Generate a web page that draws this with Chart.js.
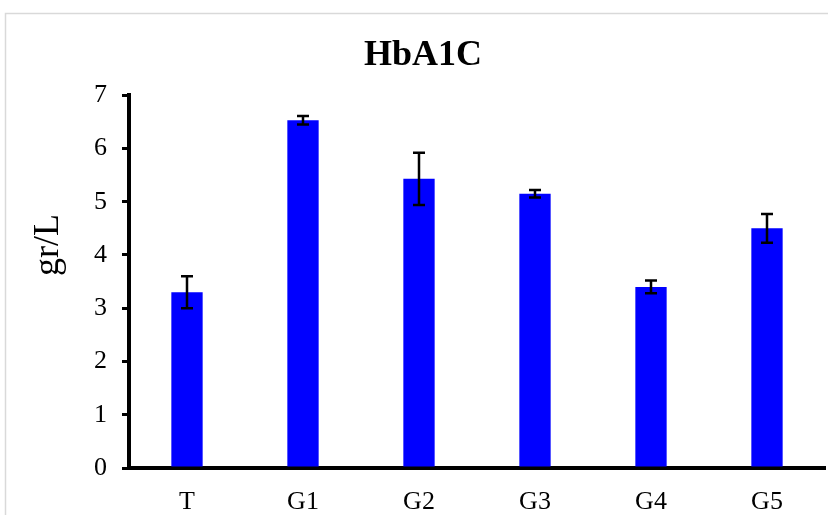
<!DOCTYPE html>
<html>
<head>
<meta charset="utf-8">
<script src="https://cdn.jsdelivr.net/npm/chart.js@4.4.1/dist/chart.umd.min.js"></script>
<style>
  html, body { margin: 0; padding: 0; background: #ffffff; }
  #wrap { width: 828px; height: 515px; position: relative; }
</style>
</head>
<body>
<div id="wrap"><canvas id="chart" width="828" height="515"></canvas></div>
<script>
// HbA1C by group (gr/L), mean and standard deviation
const groups = ['T', 'G1', 'G2', 'G3', 'G4', 'G5'];
const meanValues = [3.30, 6.53, 5.43, 5.15, 3.40, 4.50];
const sdValues = [0.30, 0.08, 0.49, 0.07, 0.12, 0.27];
const yTicks = [0, 1, 2, 3, 4, 5, 6, 7];

const SERIF = "'Liberation Serif', 'Times New Roman', serif";

// White background with a light grey outer frame
const framePlugin = {
  id: 'frame',
  beforeDraw(chart) {
    const ctx = chart.ctx;
    ctx.save();
    ctx.fillStyle = '#ffffff';
    ctx.fillRect(0, 0, chart.width, chart.height);
    ctx.strokeStyle = '#d9d9d9';
    ctx.lineWidth = 1.5;
    ctx.strokeRect(5.5, 13.5, chart.width + 20, chart.height + 20);
    ctx.restore();
  }
};

// Rotated y-axis title
const yTitlePlugin = {
  id: 'yTitle',
  afterDraw(chart) {
    const ctx = chart.ctx;
    ctx.save();
    ctx.translate(58, 245);
    ctx.rotate(-Math.PI / 2);
    ctx.font = '36px ' + SERIF;
    ctx.fillStyle = '#000000';
    ctx.textAlign = 'center';
    ctx.textBaseline = 'alphabetic';
    ctx.fillText('gr/L', 0, 0);
    ctx.restore();
  }
};

// Error bars (mean ± SD) drawn through the y scale
const errorBarPlugin = {
  id: 'errorBars',
  afterDatasetsDraw(chart) {
    const ctx = chart.ctx;
    const yScale = chart.scales.y;
    const meta = chart.getDatasetMeta(0);
    ctx.save();
    ctx.strokeStyle = '#000000';
    ctx.lineWidth = 2.5;
    meta.data.forEach((bar, i) => {
      const x = bar.x;
      const top = yScale.getPixelForValue(meanValues[i] + sdValues[i]);
      const bottom = yScale.getPixelForValue(meanValues[i] - sdValues[i]);
      const cap = 6;
      ctx.beginPath();
      ctx.moveTo(x, top);
      ctx.lineTo(x, bottom);
      ctx.moveTo(x - cap, top);
      ctx.lineTo(x + cap, top);
      ctx.moveTo(x - cap, bottom);
      ctx.lineTo(x + cap, bottom);
      ctx.stroke();
    });
    ctx.restore();
  }
};

new Chart(document.getElementById('chart'), {
  type: 'bar',
  data: {
    labels: groups,
    datasets: [{
      data: meanValues,
      backgroundColor: '#0000ff',
      borderWidth: 0,
      barPercentage: 1.0,
      categoryPercentage: 0.27
    }]
  },
  plugins: [framePlugin, yTitlePlugin, errorBarPlugin],
  options: {
    responsive: false,
    animation: false,
    devicePixelRatio: 1,
    layout: { padding: { left: 21, right: 3, top: 0, bottom: 0 } },
    plugins: {
      legend: { display: false },
      tooltip: { enabled: false },
      title: {
        display: true,
        text: 'HbA1C',
        color: '#000000',
        font: { family: SERIF, size: 36, weight: 'bold', lineHeight: 1.2 },
        padding: { top: 34, bottom: 18 }
      }
    },
    scales: {
      x: {
        grid: { display: false },
        border: { display: true, color: '#000000', width: 4 },
        ticks: {
          color: '#000000',
          font: { family: SERIF, size: 26 },
          padding: 11,
          maxRotation: 0
        },
        afterFit(scale) { scale.height = 47; }
      },
      y: {
        min: 0,
        max: 7,
        afterBuildTicks(scale) { scale.ticks = yTicks.map(v => ({ value: v })); },
        grid: {
          drawOnChartArea: false,
          drawTicks: true,
          tickLength: 7,
          color: '#000000',
          lineWidth: 3
        },
        border: { display: true, color: '#000000', width: 4 },
        ticks: {
          color: '#000000',
          font: { family: SERIF, size: 26 },
          padding: 15
        },
        afterFit(scale) { scale.width = 108; }
      }
    }
  }
});
</script>
</body>
</html>
